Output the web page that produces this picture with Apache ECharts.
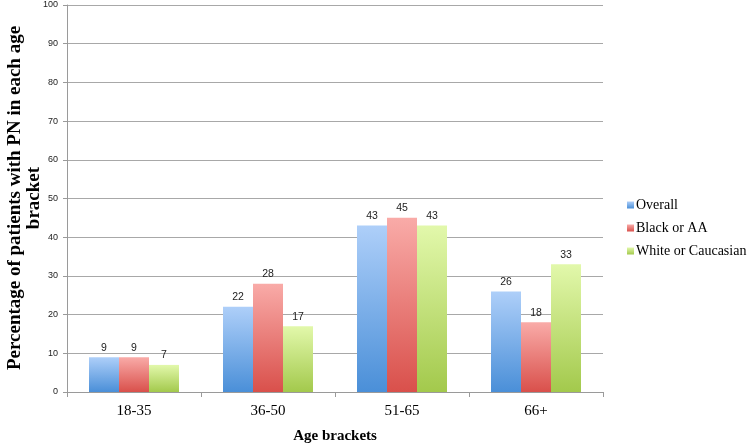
<!DOCTYPE html>
<html><head><meta charset="utf-8">
<script src="https://cdn.jsdelivr.net/npm/echarts@6/dist/echarts.min.js"></script>
<style>html,body{margin:0;padding:0;background:#fff}#c{width:748px;height:445px}</style>
</head><body><div id="c"></div>
<script>
const categories = ['18-35', '36-50', '51-65', '66+'];
const overall = [9, 22, 43, 26];
const blackAA = [9, 28, 45, 18];
const white = [7, 17, 43, 33];
const seriesNames = ['Overall', 'Black or AA', 'White or Caucasian'];
const yTicks = {min: 0, max: 100, interval: 10};

function grad(top, bottom) {
  return new echarts.graphic.LinearGradient(0, 0, 0, 1, [
    {offset: 0, color: top}, {offset: 1, color: bottom}
  ]);
}
const colors = [
  ['#aecff9', '#4a8fd8'],
  ['#f9aba8', '#d9504b'],
  ['#e2f8ab', '#a3c94c']
];
const legendColors = ['#6aa5e8', '#e8706b', '#bde07a'];
const datasets = [overall, blackAA, white];
const chart = echarts.init(document.getElementById('c'));
chart.setOption({
  animation: false,
  color: legendColors,
  grid: {left: 67, right: 145, top: 5, bottom: 53, containLabel: false, outerBoundsMode: 'none'},
  legend: {
    orient: 'vertical', left: 622, top: 193, itemWidth: 7, itemHeight: 7, itemGap: 9,
    icon: 'rect',
    textStyle: {fontFamily: 'Liberation Serif', fontSize: 14, color: '#000', padding: [0,0,0,-3]},
    data: seriesNames
  },
  xAxis: {
    type: 'category', data: categories,
    axisLine: {lineStyle: {color: '#9a9a9a'}},
    axisTick: {show: true, length: 5, lineStyle: {color: '#9a9a9a'}},
    axisLabel: {fontFamily: 'Liberation Serif', fontSize: 15, color: '#000', margin: 12},
    name: 'Age brackets', nameLocation: 'middle', nameGap: 37,
    nameTextStyle: {fontFamily: 'Liberation Serif', fontWeight: 'bold', fontSize: 15, color: '#000'}
  },
  yAxis: {
    type: 'value', min: yTicks.min, max: yTicks.max, interval: yTicks.interval,
    axisLine: {show: true, lineStyle: {color: '#9a9a9a'}},
    axisTick: {show: true, length: 4, lineStyle: {color: '#9a9a9a'}},
    splitLine: {lineStyle: {color: '#a8a8a8'}},
    axisLabel: {fontFamily: 'Liberation Sans', fontSize: 9, color: '#222', margin: 9}
  },
  graphic: [{
    type: 'text', rotation: Math.PI / 2,
    x: 25, y: 198,
    style: {
      text: 'Percentage of patients with PN in each age\nbracket',
      fontFamily: 'Liberation Serif', fontWeight: 'bold', fontSize: 19, fill: '#000',
      align: 'center', verticalAlign: 'middle', lineHeight: 19
    }
  }],
  series: datasets.map((d, i) => ({
    name: seriesNames[i], type: 'bar', data: d,
    barWidth: 30, barGap: '0%',
    itemStyle: {color: grad(colors[i][0], colors[i][1])},
    label: {show: true, position: 'top', distance: 4, fontFamily: 'Liberation Sans', fontSize: 10.5, color: '#222'}
  }))
});
</script></body></html>
